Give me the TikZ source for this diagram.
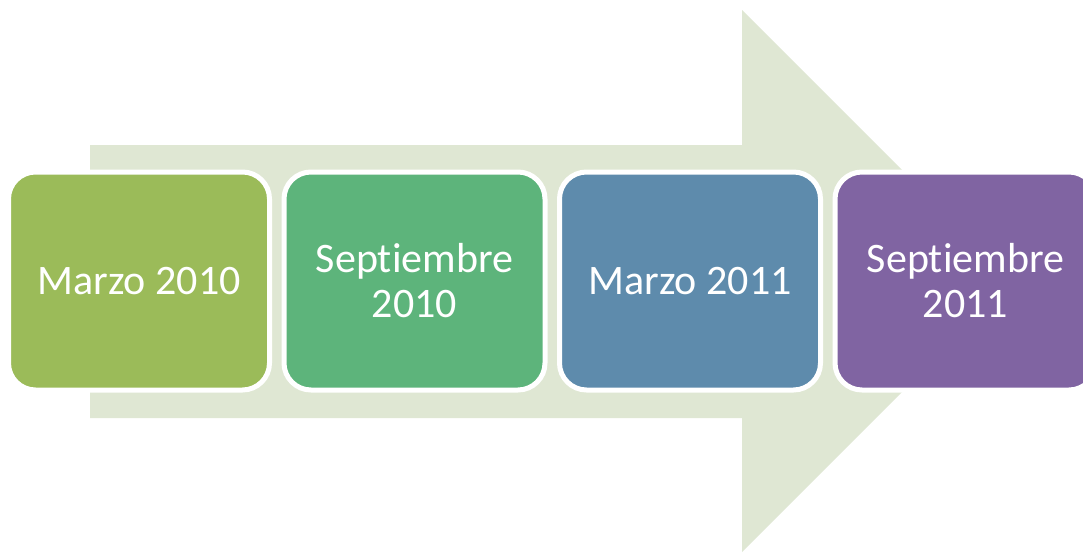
\documentclass[tikz,border=0pt]{standalone}
\usepackage{fontspec}
\setmainfont{Carlito}[Ligatures={NoCommon,NoContextual}]
\usetikzlibrary{positioning}
\definecolor{arrowbg}{HTML}{DFE7D3}
\definecolor{boxa}{HTML}{9BBB59}
\definecolor{boxb}{HTML}{5DB47B}
\definecolor{boxc}{HTML}{5E8BAC}
\definecolor{boxd}{HTML}{8064A2}
\tikzset{
    datebox/.style={draw=white,line width=5pt,rounded corners=27pt,minimum width=261pt,minimum height=218pt,
        text=white,align=center,font=\fontsize{42}{45}\selectfont},
}
\begin{document}
\begin{tikzpicture}[x=1pt,y=1pt]
        \useasboundingbox (0,0) rectangle (1083,-552);
        \clip (0,0) rectangle (1083,-552);
        \fill [arrowbg] (90,-145) -- (742,-145) -- (742,-10) -- (1013,-281) -- (742,-552) -- (742,-418) -- (90,-418) -- cycle;

        \node (mar10) at (139,-281) [datebox,fill=boxa]{Marzo 2010};
        \node (sep10) [datebox,fill=boxb,right=9.5pt of mar10]{Septiembre\\2010};
        \node (mar11) [datebox,fill=boxc,right=9.5pt of sep10]{Marzo 2011};
        \node (sep11) [datebox,fill=boxd,right=9.5pt of mar11]{Septiembre\\2011};
    \end{tikzpicture}
\end{document}
